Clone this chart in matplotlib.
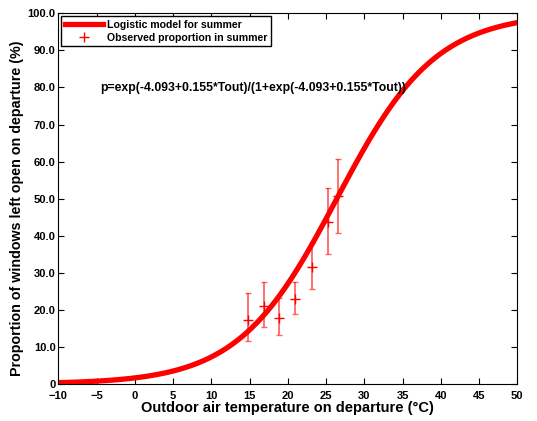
import numpy as np
import matplotlib
matplotlib.use("Agg")
import matplotlib.pyplot as plt

plt.rcParams['font.family'] = ['Liberation Sans', 'DejaVu Sans']
plt.rcParams['font.weight'] = 'bold'

# logistic model coefficients
b0 = -4.093
b1 = 0.155

# observed proportions (%) with error bar limits
obs_temp = [14.8, 16.9, 18.9, 20.9, 23.2, 25.3, 26.6]
obs_prop = [17.3, 21.0, 17.7, 22.9, 31.5, 43.8, 50.7]
obs_low = [11.7, 15.5, 13.2, 18.9, 25.5, 35.0, 40.8]
obs_high = [24.5, 27.6, 23.3, 27.6, 38.1, 52.8, 60.6]

x_ticks = list(range(-10, 51, 5))
y_ticks = list(range(0, 101, 10))
y_labels = ['0'] + [f'{v:.1f}' for v in y_ticks[1:]]

fig = plt.figure(figsize=(5.37, 4.21), dpi=100)
ax = fig.add_axes([0.1086, 0.0879, 0.8547, 0.8805])

t = np.linspace(-10, 50, 400)
z = np.exp(b0 + b1 * t)
ax.plot(t, 100 * z / (1 + z), color='red', lw=3.8, label='Logistic model for summer')

obs_prop = np.array(obs_prop)
yerr = [obs_prop - np.array(obs_low), np.array(obs_high) - obs_prop]
ax.errorbar(obs_temp, obs_prop, yerr=yerr, fmt='none', ecolor='red', alpha=0.6,
            elinewidth=1.3, capsize=2)
ax.plot(obs_temp, obs_prop, '+', color='red', ms=7, mew=1.0,
        label='Observed proportion in summer')

ax.text(-4.5, 79.8, 'p=exp(-4.093+0.155*Tout)/(1+exp(-4.093+0.155*Tout))',
        fontsize=8.8, fontweight='bold', va='center')

ax.set_xlim(-10, 50)
ax.set_ylim(0, 100)
ax.set_xticks(x_ticks)
ax.set_yticks(y_ticks)
ax.set_yticklabels(y_labels)
ax.tick_params(direction='in', top=True, right=True, labelsize=8, length=4, pad=2)
ax.tick_params(axis='x', pad=5)
for lbl in ax.get_xticklabels() + ax.get_yticklabels():
    lbl.set_fontweight('bold')
ax.set_xlabel('Outdoor air temperature on departure (°C)', fontsize=10.5, fontweight='bold', labelpad=0)
ax.set_ylabel('Proportion of windows left open on departure (%)', fontsize=10.3, fontweight='bold')
ax.yaxis.set_label_coords(-0.075, 0.475)

leg = ax.legend(loc='upper left', fontsize=7.6, frameon=True, fancybox=False, framealpha=1,
                edgecolor='black', borderpad=0.35, labelspacing=0.25, handlelength=3.6,
                handletextpad=0.4, borderaxespad=0.3)
leg.get_frame().set_linewidth(1.0)
for txt in leg.get_texts():
    txt.set_fontweight('bold')

fig.savefig('out.png', dpi=100)
